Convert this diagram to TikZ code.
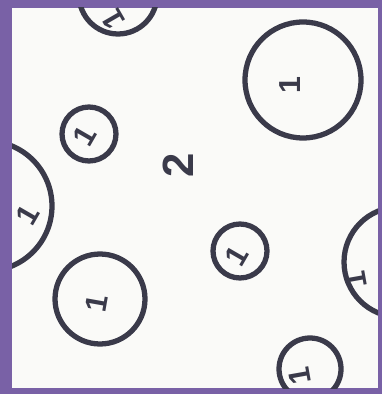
\documentclass[tikz,border=0pt]{standalone}
\usepackage{fontspec}
\setsansfont{Liberation Sans}
\usetikzlibrary{positioning}
\definecolor{frame}{RGB}{121,97,166}
\definecolor{ink}{RGB}{58,58,74}
\definecolor{paper}{RGB}{250,250,248}
\tikzset{
  blob/.style={circle, draw=ink, line width=3pt, inner sep=0pt},
  one/.style={text=ink, font=\LARGE\sffamily\bfseries, inner sep=0pt},
  two/.style={text=ink, font=\Huge\sffamily\bfseries, inner sep=0pt}
}

\begin{document}
\begin{tikzpicture}[x=0.02cm,y=-0.02cm]

% paper on the purple card
\fill[frame] (0,0) rectangle (382,394);
\fill[paper] (12,8) rectangle (378,388);
\clip (12,8) rectangle (378,388);

% circles
\node[blob, minimum size=1.56cm] (top)    at (118,-5)  {};
\node[blob, minimum size=2.32cm] (big)    at (303,80)  {};
\node[blob, minimum size=1.08cm] (small)  at (89,134)  {};
\node[blob, minimum size=2.6cm]  (left)   at (-13,206) {};
\node[blob, minimum size=1.08cm] (mid)    at (240,251) {};
\node[blob, minimum size=1.8cm]  (low)    at (100,299) {};
\node[blob, minimum size=2.2cm]  (right)  at (399,262) {};
\node[blob, minimum size=1.24cm] (corner) at (310,369) {};

% labels
\node[one, rotate=120] (ltop)    at (113,19)  {1};
\node[one, rotate=90]  (lbig)    at (290,85)  {1};
\node[one, rotate=60]  (lsmall)  at (85,136)  {1};
\node[one, rotate=60]  (lleft)   at (28,215)  {1};
\node[one, rotate=60]  (lmid)    at (237,256) {1};
\node[one, rotate=80]  (llow)    at (97,303)  {1};
\node[one, rotate=100] (lright)  at (356,280) {1};
\node[one, rotate=100] (lcorner) at (300,376) {1};

\node[two, rotate=90] (count) at (178,165) {2};

\end{tikzpicture}
\end{document}
